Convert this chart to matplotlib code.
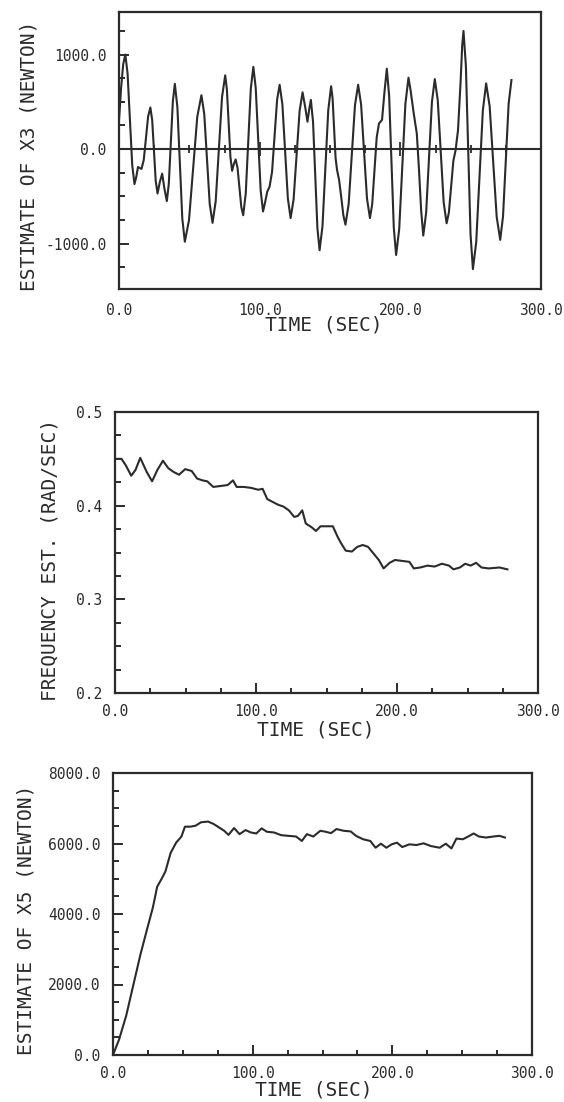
import matplotlib
matplotlib.use("Agg")
import matplotlib.pyplot as plt
from matplotlib.ticker import MultipleLocator, FormatStrFormatter, NullLocator

# ---------------- data ----------------
x3_time = [0, 1.5, 3, 4.5, 6.1, 7.75, 9.4, 11, 12.2, 13.5,
           14.8, 16, 17.6, 19.15, 20.7, 22.3, 23.6, 24.85, 26.1, 27.4,
           29, 30.7, 32.3, 34, 35.4, 36.85, 38.3, 39.7, 41.5, 43.25,
           45, 46.8, 49.75, 52.7, 55.65, 58.6, 60.6, 62.55, 64.5, 66.5,
           68.75, 71, 73.25, 75.5, 76.7, 77.95, 79.2, 80.4, 81.6, 82.9,
           84.25, 85.6, 86.95, 88.3, 90.1, 91.9, 93.7, 95.5, 97.2, 98.95,
           100.7, 102.4, 103.9, 105.4, 107, 108.8, 110.6, 112.4, 114.2, 116.15,
           118.1, 120.05, 122, 124.1, 126.25, 128.4, 130.5, 132.3, 134, 135.2,
           136.4, 137.95, 139.5, 141.05, 142.6, 144.65, 146.7, 148.75, 150.8, 151.85,
           152.9, 153.95, 155, 156.5, 158, 159.5, 161, 163.25, 165.5, 167.75,
           170, 172.1, 174.2, 176.3, 178.4, 180, 181.6, 183.2, 184.8, 187,
           188.7, 190.4, 192.05, 193.7, 195.35, 197, 199.2, 201.4, 203.6, 205.8,
           207.3, 209.5, 211.7, 213.2, 214.8, 216.3, 218.35, 220.4, 222.45, 224.5,
           226.6, 228.7, 230.8, 232.9, 234.5, 236.1, 237.7, 239.3, 241, 242.8,
           244, 244.9, 246.6, 248.25, 249.9, 251.6, 253.95, 256.3, 258.65, 261,
           263.5, 266, 268.5, 271, 273, 275, 277, 279]
x3_force = [300, 650, 900, 1000, 799, 315, -169, -370, -300, -190,
            -200, -210, -115, 115, 345, 440, 307, -15, -337, -470,
            -350, -260, -420, -550, -368, 70, 508, 690, 445, -145,
            -735, -980, -753, -205, 343, 570, 372, -105, -582, -780,
            -551, 0, 551, 780, 632, 275, -82, -230, -160, -110,
            -196, -405, -614, -700, -470, 85, 640, 870, 646, 105,
            -436, -660, -560, -450, -400, -242, 140, 522, 680, 473,
            -25, -523, -730, -535, -65, 405, 600, 450, 290, 420,
            520, 287, -275, -837, -1070, -817, -203, 411, 665, 535,
            222, -91, -220, -330, -510, -700, -800, -583, -60, 463,
            680, 473, -25, -523, -730, -584, -230, 124, 270, 310,
            600, 850, 561, -135, -831, -1120, -846, -183, 480, 755,
            620, 380, 165, -200, -650, -915, -673, -88, 497, 740,
            517, -23, -562, -785, -672, -398, -124, -10, 200, 700,
            1100, 1250, 881, -10, -901, -1270, -983, -288, 407, 695,
            452, -133, -718, -960, -712, -115, 482, 730]

freq_time = [0, 4.6, 7.7, 11.5, 14.5, 17.9, 22.5, 26.3, 30, 34,
             37.8, 41.6, 45.4, 49.8, 54.4, 58.2, 62, 65.4, 69.7, 74.8,
             79.9, 83.7, 86.3, 91.4, 96.5, 101.6, 104.7, 108, 111.8, 115.7,
             119.5, 123.3, 127.1, 129.7, 132.8, 135.3, 139.4, 142.5, 145.8, 150.1,
             154.5, 157.8, 160.3, 163.6, 168, 171.8, 175.7, 179.5, 183.3, 187.1,
             190.5, 194.8, 198.6, 203.7, 208.8, 211.9, 216.5, 221.6, 226.7, 231.8,
             236.9, 240, 244.6, 248.4, 252.2, 256.1, 259.9, 265, 272.7, 278.3]
freq_value = [0.450, 0.450, 0.443, 0.432, 0.438, 0.451, 0.436, 0.426, 0.438, 0.448,
              0.440, 0.436, 0.433, 0.439, 0.437, 0.429, 0.427, 0.426, 0.420, 0.421,
              0.422, 0.427, 0.420, 0.420, 0.419, 0.417, 0.418, 0.407, 0.404, 0.401,
              0.399, 0.395, 0.388, 0.389, 0.395, 0.381, 0.377, 0.373, 0.378, 0.378,
              0.378, 0.367, 0.360, 0.352, 0.351, 0.356, 0.358, 0.356, 0.349, 0.342,
              0.333, 0.339, 0.342, 0.341, 0.340, 0.333, 0.334, 0.336, 0.335, 0.338,
              0.336, 0.332, 0.334, 0.338, 0.336, 0.339, 0.334, 0.333, 0.334, 0.332]

x5_time = [0, 4.3, 9.4, 14.5, 19.6, 24.7, 28.6, 31.6, 35, 37.5,
           41.3, 45.2, 49, 51.5, 55.4, 59.2, 63, 68.1, 72, 75.8,
           79.6, 82.7, 86.7, 90.6, 94.9, 98.7, 102.6, 106.4, 110.2, 115.3,
           120.4, 125.5, 131.1, 135.2, 138.8, 143.4, 148.5, 152.3, 156.1, 160,
           165.1, 170.2, 174, 179.1, 184.2, 188, 191.8, 195.7, 199.5, 203.3,
           207.1, 212.2, 217.3, 222.4, 227.6, 233.9, 238.3, 242.3, 245.9, 250.5,
           254.3, 258.2, 262, 267.1, 272.2, 276.8, 280.6]
x5_force = [0, 434, 1108, 1976, 2843, 3614, 4193, 4771, 5012, 5205,
            5735, 6024, 6198, 6477, 6477, 6506, 6602, 6622, 6554, 6458,
            6361, 6245, 6438, 6265, 6381, 6313, 6284, 6429, 6333, 6313,
            6236, 6217, 6198, 6072, 6265, 6198, 6361, 6333, 6294, 6410,
            6361, 6342, 6217, 6120, 6072, 5880, 5995, 5880, 5976, 6024,
            5899, 5976, 5957, 6005, 5928, 5880, 5995, 5860, 6140, 6120,
            6198, 6284, 6198, 6169, 6198, 6217, 6169]

x_label = "TIME (SEC)"
y_labels = ["ESTIMATE OF X3 (NEWTON)", "FREQUENCY EST. (RAD/SEC)", "ESTIMATE OF X5 (NEWTON)"]

# ---------------- style ----------------
INK = "#2b2b2b"
plt.rcParams["font.family"] = ["DejaVu Sans Mono", "DejaVu Sans"]
TICK_FS = 10.5
LABEL_FS = 14

fig = plt.figure(figsize=(5.64, 11.02), dpi=100)
W, H = 564.0, 1102.0


def make_axes(left, right, top, bottom):
    return fig.add_axes([left / W, 1 - bottom / H, (right - left) / W, (bottom - top) / H])


def style(ax, ylab, ylab_x, ylab_y, xlab_x, xlab_y):
    for s in ax.spines.values():
        s.set_linewidth(1.6)
        s.set_color(INK)
    ax.set_xlim(0, 300)
    ax.xaxis.set_major_locator(MultipleLocator(100))
    ax.xaxis.set_major_formatter(FormatStrFormatter("%.1f"))
    ax.tick_params(which="both", direction="in", colors=INK, width=1.4,
                   labelsize=TICK_FS, top=False, right=False)
    ax.tick_params(axis="y", which="major", length=7, pad=9)
    ax.tick_params(axis="y", which="minor", length=4.5)
    ax.tick_params(axis="x", which="major", length=7, pad=8)
    ax.tick_params(axis="x", which="minor", length=3.8)
    ax.set_ylabel(ylab, fontsize=LABEL_FS, color=INK)
    ax.yaxis.label.set_va("center")
    ax.yaxis.set_label_coords(ylab_x, ylab_y)
    ax.set_xlabel(x_label, fontsize=LABEL_FS, color=INK)
    ax.xaxis.label.set_va("center")
    ax.xaxis.set_label_coords(xlab_x, xlab_y)


# ---------------- top: estimate of X3 ----------------
ax1 = make_axes(119, 541, 12, 289)
y1_lo, y1_hi = -1480, 1450
ax1.set_ylim(y1_lo, y1_hi)
ax1.plot(x3_time, x3_force, color=INK, lw=1.5)
style(ax1, y_labels[0], -0.213, 0.48, 0.486, -0.13)
ax1.yaxis.set_major_locator(MultipleLocator(1000))
ax1.yaxis.set_minor_locator(MultipleLocator(250))
ax1.yaxis.set_major_formatter(FormatStrFormatter("%.1f"))
ax1.xaxis.set_minor_locator(NullLocator())
ax1.tick_params(axis="x", which="major", length=0, pad=10)
# zero line acting as time axis with ticks
zero_pos = (0 - y1_lo) / (y1_hi - y1_lo)
sec = ax1.secondary_xaxis(zero_pos)
sec.xaxis.set_major_locator(MultipleLocator(100))
sec.xaxis.set_minor_locator(MultipleLocator(25))
sec.tick_params(which="both", direction="inout", colors=INK, width=1.3,
                labelbottom=False, labeltop=False)
sec.tick_params(which="major", length=10)
sec.tick_params(which="minor", length=6)
for s in sec.spines.values():
    s.set_linewidth(1.5)
    s.set_color(INK)

# ---------------- middle: frequency estimate ----------------
ax2 = make_axes(115, 538, 412, 693)
ax2.set_ylim(0.2, 0.5)
ax2.plot(freq_time, freq_value, color=INK, lw=1.5)
style(ax2, y_labels[1], -0.154, 0.473, 0.475, -0.13)
ax2.yaxis.set_major_locator(MultipleLocator(0.1))
ax2.yaxis.set_minor_locator(MultipleLocator(0.025))
ax2.yaxis.set_major_formatter(FormatStrFormatter("%.1f"))
ax2.xaxis.set_minor_locator(MultipleLocator(25))

# ---------------- bottom: estimate of X5 ----------------
ax3 = make_axes(113, 532, 773, 1055)
ax3.set_ylim(0, 8000)
ax3.plot(x5_time, x5_force, color=INK, lw=1.5)
style(ax3, y_labels[2], -0.208, 0.48, 0.48, -0.125)
ax3.yaxis.set_major_locator(MultipleLocator(2000))
ax3.yaxis.set_minor_locator(MultipleLocator(500))
ax3.yaxis.set_major_formatter(FormatStrFormatter("%.1f"))
ax3.xaxis.set_minor_locator(MultipleLocator(25))

fig.savefig("out.png", dpi=100, facecolor="white")
